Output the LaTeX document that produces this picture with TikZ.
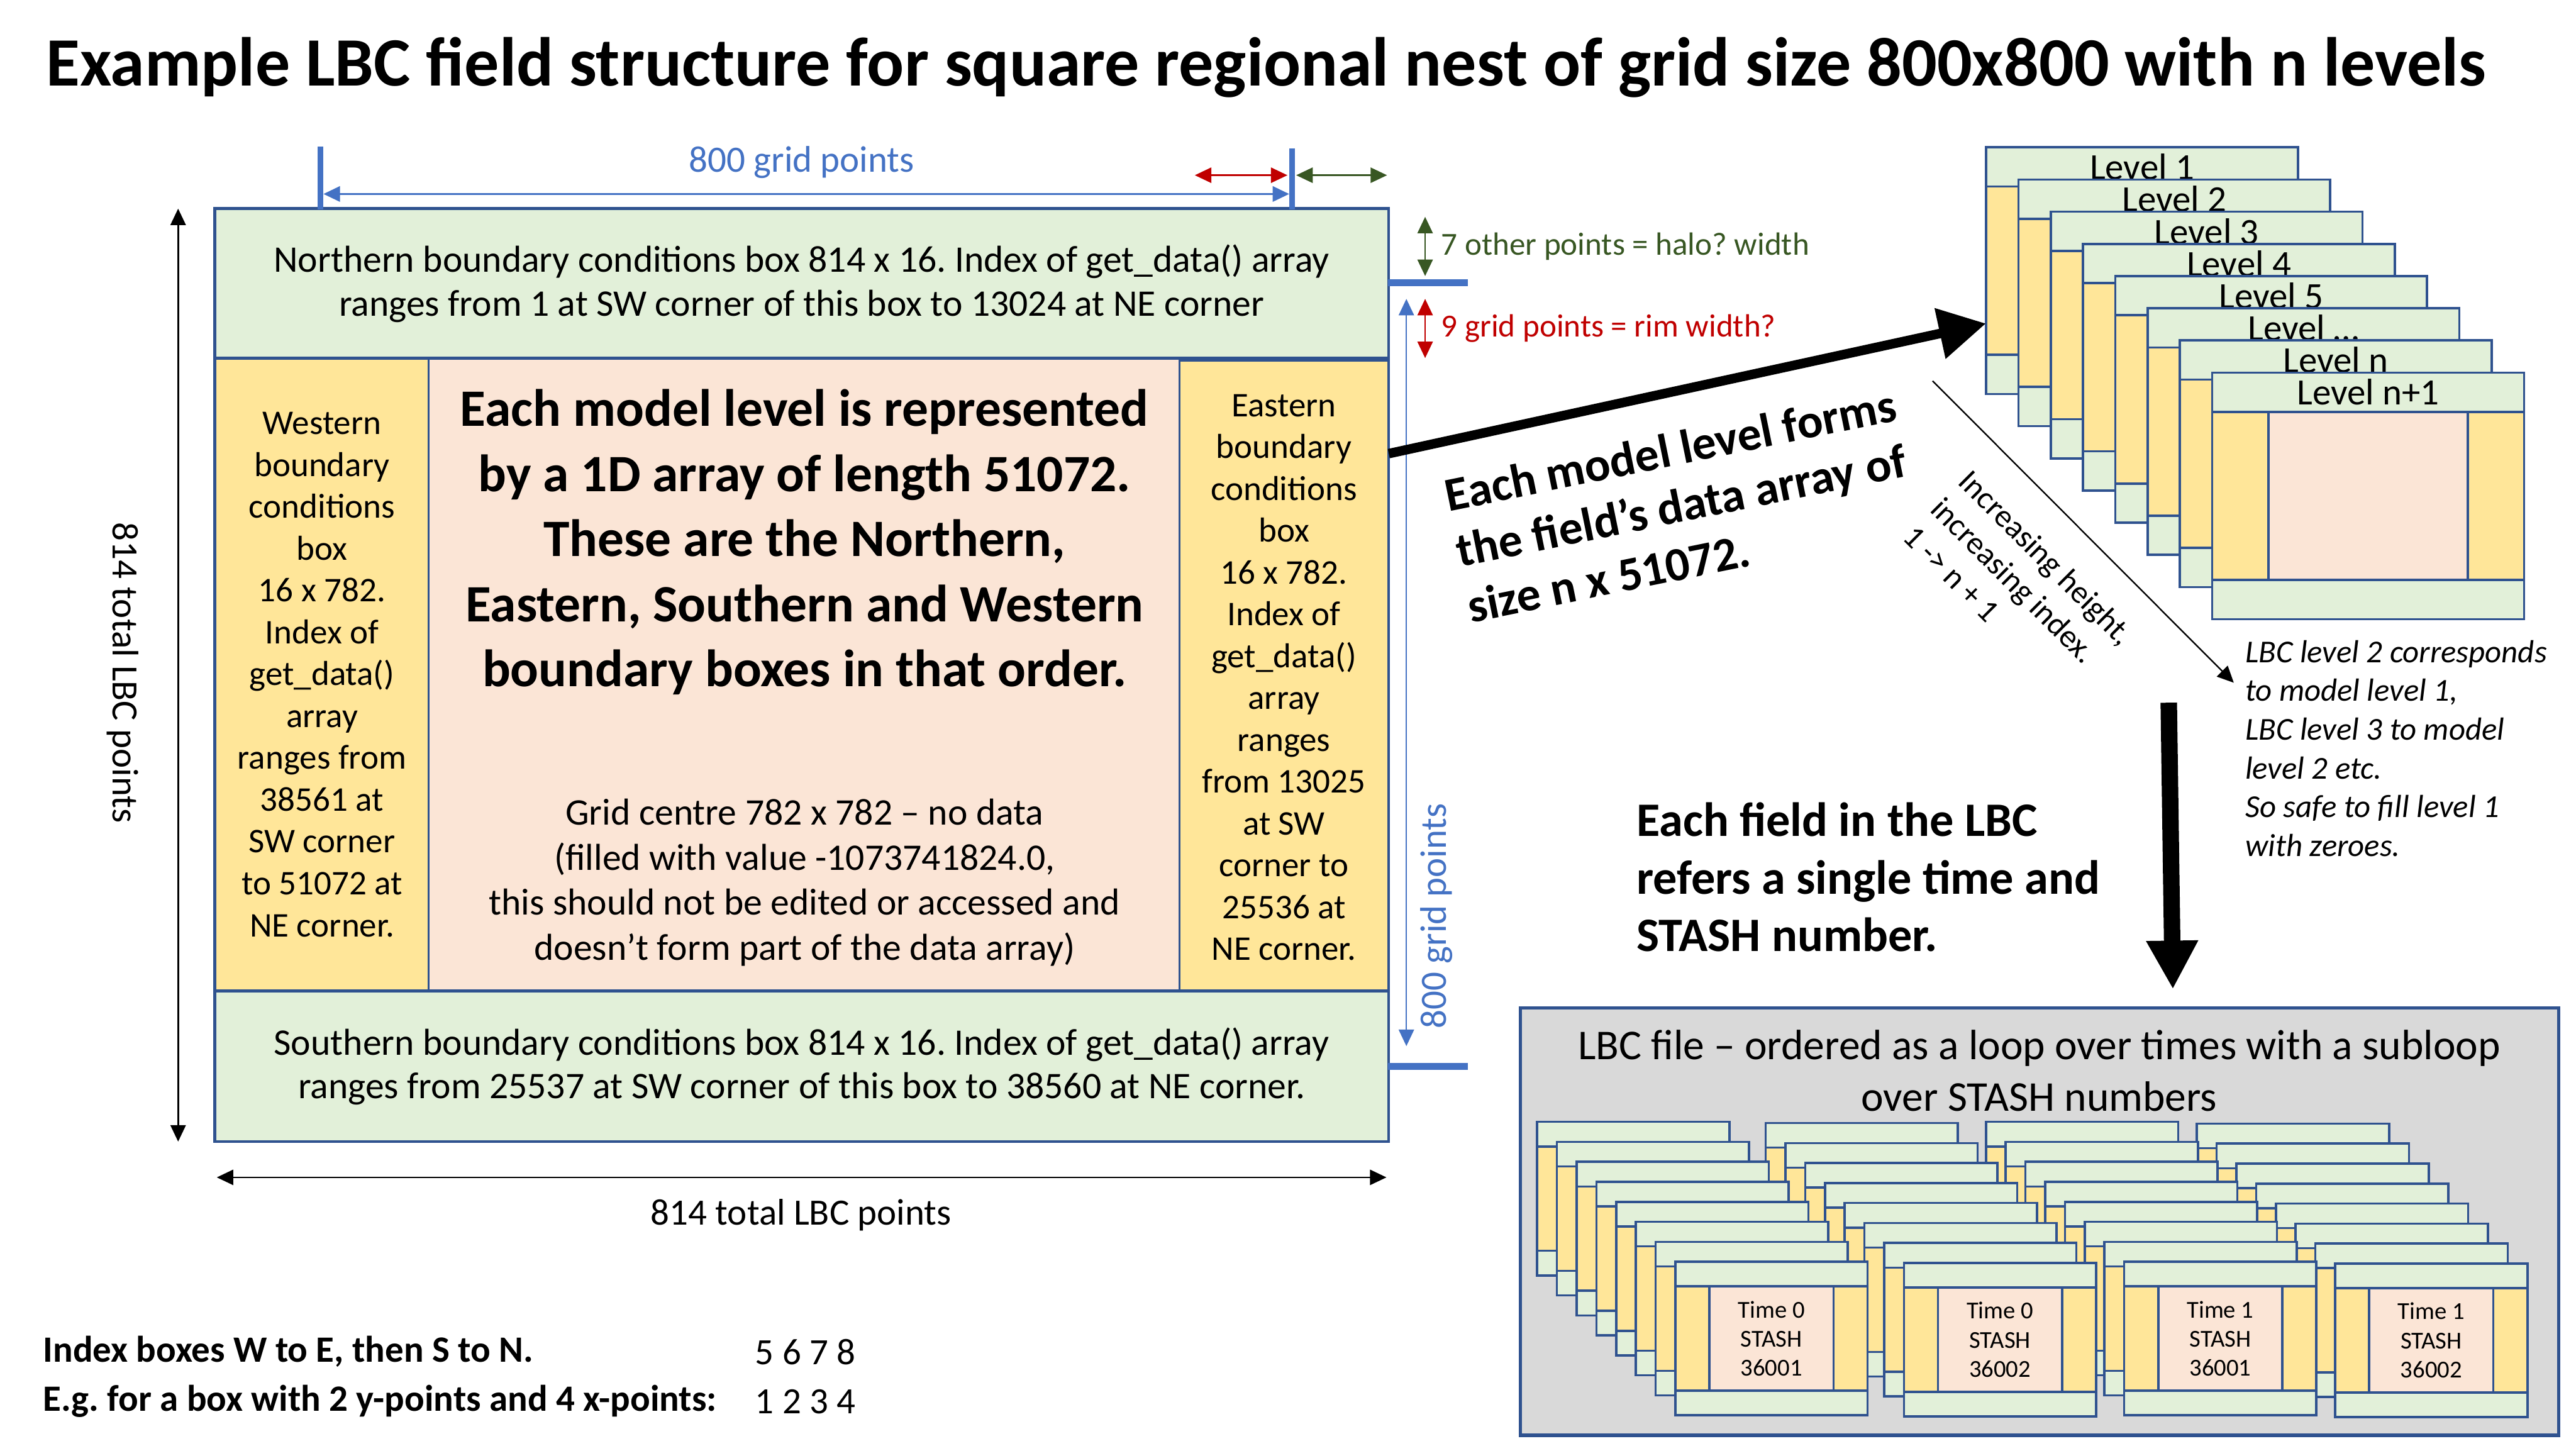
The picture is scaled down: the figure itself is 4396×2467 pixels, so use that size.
\documentclass[tikz,border=0pt]{standalone}
\usepackage{fontspec}
\setmainfont{Carlito}
\usepackage{tikz}
\usetikzlibrary{arrows.meta,positioning}
\definecolor{lbcgreen}{HTML}{E2F0D9}
\definecolor{lbcyellow}{HTML}{FFE699}
\definecolor{lbcpeach}{HTML}{FBE5D6}
\definecolor{lbcedge}{HTML}{2F528F}
\definecolor{dimblue}{HTML}{4472C4}
\definecolor{dimred}{HTML}{C00000}
\definecolor{dimgreen}{HTML}{385723}
\definecolor{filegray}{HTML}{D9D9D9}
\frenchspacing

\begin{document}
\begin{tikzpicture}[x=0.01cm,y=-0.01cm,>={Triangle[length=8pt,width=7.4pt]},
  txt/.style={inner sep=0pt,align=center},
  region/.style={draw=lbcedge,line width=1pt,inner sep=0pt,outer sep=0pt},
  panelline/.style={draw=lbcedge,line width=1.1pt},
  dim/.style={<->,line width=0.8pt},
  titlefont/.style={font=\fontsize{33.6}{40}\selectfont\bfseries},
  edgefont/.style={font=\fontsize{18.2}{21.3}\selectfont},
  sidefont/.style={font=\fontsize{16.8}{20.3}\selectfont},
  bigfont/.style={font=\fontsize{25.5}{31.6}\selectfont\bfseries},
  boldnote/.style={font=\fontsize{23.2}{27.5}\selectfont\bfseries},
  fieldfont/.style={font=\fontsize{23.3}{27.9}\selectfont\bfseries},
  labfont/.style={font=\fontsize{18}{21.8}\selectfont},
  smallfont/.style={font=\fontsize{15.6}{19}\selectfont},
  itfont/.style={font=\fontsize{15.5}{18.8}\selectfont\itshape},
  filefont/.style={font=\fontsize{20.6}{24.8}\selectfont},
  timefont/.style={font=\fontsize{11.8}{14.1}\selectfont},
  idxfont/.style={font=\fontsize{18}{23.6}\selectfont}]
  \useasboundingbox (0,0) rectangle (4396,2467);
  \fill[white] (0,0) rectangle (4396,2467);

  \node[txt,titlefont,anchor=base west] (title) at (78,147)
    {Example LBC field structure for square regional nest of grid size 800x800 with n levels};

  % the four boundary boxes round the empty centre
  \node[region,fill=lbcyellow,minimum width=3.65cm,minimum height=10.8cm,sidefont,align=center] (west) at (549.5,1151)
    {Western\\boundary\\conditions\\box\\16 x 782.\\Index of\\get\_data()\\array\\ranges from\\38561 at\\SW corner\\to 51072 at\\NE corner.};
  \node[region,fill=lbcpeach,minimum width=12.81cm,minimum height=10.8cm] (centre) at (1372.5,1151) {};
  \node[region,fill=lbcyellow,minimum width=3.56cm,minimum height=10.8cm,sidefont,align=center] (east) at (2191,1156)
    {Eastern\\boundary\\conditions\\box\\16 x 782.\\Index of\\get\_data()\\array\\ranges\\from 13025\\at SW\\corner to\\25536 at\\NE corner.};
  \node[region,line width=1.4pt,fill=lbcgreen,minimum width=20.02cm,minimum height=2.55cm,edgefont,align=center] (north) at (1368,483.5)
    {Northern boundary conditions box 814 x 16. Index of get\_data() array\\ranges from 1 at SW corner of this box to 13024 at NE corner};
  \node[region,line width=1.4pt,fill=lbcgreen,minimum width=20.02cm,minimum height=2.57cm,edgefont,align=center] (south) at (1368,1819.5)
    {Southern boundary conditions box 814 x 16. Index of get\_data() array\\ranges from 25537 at SW corner of this box to 38560 at NE corner.};
  \draw[lbcedge,line width=1.4pt] (north.north west) rectangle (south.south east);
  \node[txt,bigfont] (reptext) at (1373,925)
    {Each model level is represented\\by a 1D array of length 51072.\\These are the Northern,\\Eastern, Southern and Western\\boundary boxes in that order.};
  \node[txt,edgefont,font=\fontsize{18.2}{21.8}\selectfont] (gridtext) at (1373,1506)
    {Grid centre 782 x 782 – no data\\(filled with value -1073741824.0,\\this should not be edited or accessed and\\doesn’t form part of the data array)};

  % dimensions of the full box
  \coordinate (lefttop) at (304,356);
  \coordinate (leftbot) at (304,1948);
  \draw[dim] (lefttop) -- (leftbot);
  \node[txt,labfont,rotate=-90] (heightlab) at (210,1148) {814 total LBC points};
  \coordinate (botleft) at (370,2009);
  \coordinate (botright) at (2366,2009);
  \draw[dim] (botleft) -- (botright);
  \node[txt,labfont] (widthlab) at (1367,2073) {814 total LBC points};

  % 800 grid points, rim and halo
  \draw[dimblue,line width=2.6pt] (547,250) -- (547,357);
  \draw[dimblue,line width=2.6pt] (2205,253) -- (2205,357);
  \coordinate (gridl) at (552,331);
  \coordinate (gridr) at (2200,331);
  \draw[dim,dimblue,line width=1pt] (gridl) -- (gridr);
  \node[txt,labfont,text=dimblue] (gridlab) at (1368,277) {800 grid points};
  \coordinate (riml) at (2039,299);
  \coordinate (rimr) at (2197,299);
  \draw[dim,dimred] (riml) -- (rimr);
  \coordinate (halol) at (2212,299);
  \coordinate (halor) at (2367,299);
  \draw[dim,dimgreen] (halol) -- (halor);

  \draw[dimblue,line width=3.3pt] (2369,482) -- (2505,482);
  \draw[dimblue,line width=3.3pt] (2369,1820) -- (2505,1820);
  \coordinate (halotop) at (2432,370);
  \coordinate (halobot) at (2432,471);
  \draw[dim,dimgreen] (halotop) -- (halobot);
  \coordinate (rimtop) at (2432,510);
  \coordinate (rimbot) at (2432,611);
  \draw[dim,dimred] (rimtop) -- (rimbot);
  \node[txt,smallfont,text=dimgreen,anchor=west] (halolab) at (2459,421) {7 other points = halo? width};
  \node[txt,smallfont,text=dimred,anchor=west] (rimlab) at (2459,560) {9 grid points = rim width?};
  \coordinate (gridtop) at (2400,510);
  \coordinate (gridbot) at (2400,1785);
  \draw[dim,dimblue,line width=0.7pt] (gridtop) -- (gridbot);
  \node[txt,labfont,text=dimblue,rotate=90] (gridlabv) at (2451,1563) {800 grid points};

  % stack of model levels
  \foreach \i/\lab in {0/1,1/2,2/3,3/4,4/5,5/…,6/n,7/n+1} {
    \begin{scope}[shift={({3389.5+55.1*\i},{251.4+54.9*\i})}]
      \fill[lbcgreen] (0,0) rectangle (532,421);
      \fill[lbcyellow] (0,67) rectangle (532,354);
      \fill[lbcpeach] (96,67) rectangle (436,354);
      \draw[panelline] (0,67) -- (532,67) (0,354) -- (532,354) (96,67) -- (96,354) (436,67) -- (436,354);
      \draw[panelline] (0,0) rectangle (532,421);
      \node[txt,labfont] (level\i) at (266,33.5) {Level \lab};
    \end{scope}
  }

  \coordinate (armstart) at (2370,774);
  \coordinate (armend) at (3389,552);
  \draw[line width=4.6pt,-{Triangle[length=22.8pt,width=24pt]}] (armstart) -- (armend);
  \node[txt,boldnote,align=left,rotate=11.5] (formsnote) at (2870,862)
    {Each model level forms\\the field’s data array of\\size n x 51072.};

  \coordinate (risestart) at (3298,650);
  \coordinate (riseend) at (3812,1165);
  \draw[->,line width=0.7pt] (risestart) -- (riseend);
  \node[txt,smallfont,align=left,rotate=-45] (risenote) at (3445,998)
    {Increasing height,\\increasing index.\\1 -> n + 1};
  \node[txt,itfont,align=left,anchor=west] (levelnote) at (3831,1277)
    {LBC level 2 corresponds\\to model level 1,\\LBC level 3 to model\\level 2 etc.\\So safe to fill level 1\\with zeroes.};

  \coordinate (dropstart) at (3701,1199);
  \coordinate (dropend) at (3708,1688);
  \draw[line width=8pt,-{Triangle[length=23.6pt,width=23.6pt]}] (dropstart) -- (dropend);
  \node[txt,fieldfont,align=left,anchor=west] (fieldnote) at (2792,1497)
    {Each field in the LBC\\refers a single time and\\STASH number.};

  % the LBC file: loop over times, subloop over STASH
  \node[draw=lbcedge,line width=1.6pt,fill=filegray,inner sep=0pt,minimum width=17.71cm,minimum height=7.29cm] (lbcfile) at (3480.5,2084.5) {};
  \node[txt,filefont] (filetitle) at (3480,1827)
    {LBC file – ordered as a loop over times with a subloop\\over STASH numbers};
  \foreach \k in {0,...,7} {
    \foreach \sx/\sy in {2859/2153,3249/2155,3625/2153,3985/2156} {
      \begin{scope}[shift={({\sx-33.7*(7-\k)},{\sy-34.1*(7-\k)})}]
        \fill[lbcgreen] (0,0) rectangle (328,262);
        \fill[lbcyellow] (0,42) rectangle (328,220);
        \fill[lbcpeach] (58,42) rectangle (270,220);
        \draw[panelline] (0,42) -- (328,42) (0,220) -- (328,220) (58,42) -- (58,220) (270,42) -- (270,220);
        \draw[panelline] (0,0) rectangle (328,262);
      \end{scope}
    }
  }
  \node[txt,timefont] (rec1) at (3023,2284) {Time 0\\STASH\\36001};
  \node[txt,timefont] (rec2) at (3413,2286) {Time 0\\STASH\\36002};
  \node[txt,timefont] (rec3) at (3789,2284) {Time 1\\STASH\\36001};
  \node[txt,timefont] (rec4) at (4149,2287) {Time 1\\STASH\\36002};

  % index ordering example
  \node[txt,idxfont,font=\fontsize{18}{23.6}\selectfont\bfseries,align=left,anchor=west] (idxnote) at (73,2349)
    {Index boxes W to E, then S to N.\\E.g. for a box with 2 y-points and 4 x-points:};
  \node[txt,idxfont,align=left,anchor=west] (idxgrid) at (1288,2349) {5 6 7 8\\1 2 3 4};
\end{tikzpicture}
\end{document}
